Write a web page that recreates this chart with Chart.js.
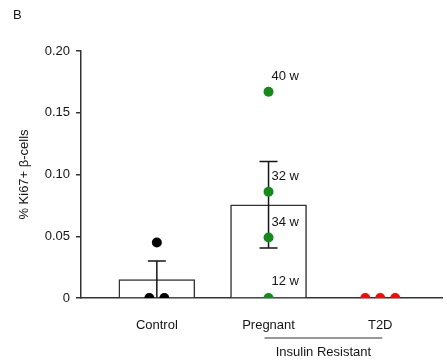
<!DOCTYPE html>
<html>
<head>
<meta charset="utf-8">
<script src="https://cdn.jsdelivr.net/npm/chart.js@4.4.0/dist/chart.umd.min.js"></script>
<style>
  html, body { margin: 0; padding: 0; background: #fff; }
</style>
</head>
<body>
<canvas id="chartKi67" width="447" height="364"></canvas>
<script>
const groups = ['Control', 'Pregnant', 'T2D'];
const means = [0.015, 0.0755, 0];
const sems = [0.015, 0.035, 0];
const controlPts = [0, 0, 0.045];
const pregnantPts = [0.167, 0.086, 0.049, 0];
const t2dPts = [0, 0, 0];
const pregnantWeeks = ['40 w', '32 w', '34 w', '12 w'];
const yTicks = [0, 0.05, 0.10, 0.15, 0.20];

// horizontal spread of the dots inside a group (in group units)
const controlJitter = [-0.067, 0.067, 0];
const t2dJitter = [-0.134, 0, 0.134];

const FONT = 'Liberation Sans, Arial, Helvetica, sans-serif';
const INK = '#151515';
const GREEN = '#15891a';
const RED = '#f50a0a';

const toPoints = (vals, grp, jitter) =>
    vals.map((v, i) => ({ x: grp + (jitter ? jitter[i] : 0), y: v }));

const extras = {
    id: 'extras',
    afterDatasetDraw(chart, args) {
        if (args.index !== 0) return;
        // error bars, drawn right after the bars so the dots sit on top
        const { ctx, scales: { x, y } } = chart;
        ctx.save();
        ctx.strokeStyle = INK;
        ctx.lineWidth = 1.5;
        means.forEach((m, i) => {
            if (!sems[i]) return;
            const px = x.getPixelForValue(i + 1);
            const top = y.getPixelForValue(m + sems[i]);
            const bot = y.getPixelForValue(Math.max(0, m - sems[i]));
            ctx.beginPath();
            ctx.moveTo(px, top); ctx.lineTo(px, bot);
            ctx.moveTo(px - 9, top); ctx.lineTo(px + 9, top);
            if (m - sems[i] > 0) { ctx.moveTo(px - 9, bot); ctx.lineTo(px + 9, bot); }
            ctx.stroke();
        });
        ctx.restore();
    },
    afterDatasetsDraw(chart) {
        const { ctx, scales: { x } } = chart;
        ctx.save();
        ctx.fillStyle = INK;
        ctx.font = '13px ' + FONT;
        ctx.textBaseline = 'middle';

        // week labels next to the pregnant dots
        const meta = chart.getDatasetMeta(2);
        meta.data.forEach((pt, i) => {
            ctx.textAlign = 'left';
            ctx.fillText(pregnantWeeks[i], pt.x + 3, pt.y - (pt.y > 290 ? 17 : 15));
        });

        // panel letter
        ctx.fillText('B', 13, 15);

        // bracket under Pregnant + T2D
        const x1 = x.getPixelForValue(2) - 4;
        const x2 = x.getPixelForValue(3) + 2;
        ctx.strokeStyle = '#333';
        ctx.lineWidth = 1.2;
        ctx.beginPath();
        ctx.moveTo(x1, 338); ctx.lineTo(x2, 338);
        ctx.stroke();
        ctx.textAlign = 'center';
        ctx.fillText('Insulin Resistant', (x1 + x2) / 2, 352);
        ctx.restore();
    }
};

new Chart(document.getElementById('chartKi67'), {
    type: 'bar',
    data: {
        datasets: [{
            type: 'bar',
            data: means.map((m, i) => ({ x: i + 1, y: m })),
            backgroundColor: '#fff',
            borderColor: '#333',
            borderWidth: 1.5,
            barThickness: 76,
            order: 10
        }, {
            type: 'scatter',
            data: toPoints(controlPts, 1, controlJitter),
            pointRadius: 5,
            pointHoverRadius: 5,
            pointBorderWidth: 0,
            backgroundColor: '#000',
            order: 0
        }, {
            type: 'scatter',
            data: toPoints(pregnantPts, 2),
            pointRadius: 5,
            pointHoverRadius: 5,
            pointBorderWidth: 0,
            backgroundColor: GREEN,
            order: 0
        }, {
            type: 'scatter',
            data: toPoints(t2dPts, 3, t2dJitter),
            pointRadius: 5,
            pointHoverRadius: 5,
            pointBorderWidth: 0,
            backgroundColor: RED,
            order: 0
        }]
    },
    options: {
        responsive: false,
        animation: false,
        layout: { padding: { top: 51, right: 0, left: 0, bottom: 0 } },
        plugins: { legend: { display: false }, tooltip: { enabled: false } },
        scales: {
            x: {
                type: 'linear',
                offset: false,
                min: 0.321,
                max: 3.553,
                afterBuildTicks: s => { s.ticks = groups.map((g, i) => ({ value: i + 1 })); },
                afterFit: s => { s.height = 66; s.paddingLeft = 0; s.paddingRight = 0; },
                grid: { display: false },
                border: { display: true, color: '#333', width: 1.5 },
                ticks: {
                    color: INK,
                    padding: 12,
                    maxRotation: 0,
                    minRotation: 0,
                    font: { family: FONT, size: 13 },
                    callback: v => groups[v - 1]
                }
            },
            y: {
                min: 0,
                max: 0.2,
                afterBuildTicks: s => { s.ticks = yTicks.map(v => ({ value: v })); },
                afterFit: s => { s.width = 81; },
                grid: { drawOnChartArea: false, tickLength: 5, color: '#333', lineWidth: 1.5 },
                border: { display: true, color: '#333', width: 1.5 },
                ticks: {
                    color: INK,
                    padding: 6,
                    font: { family: FONT, size: 13 },
                    callback: v => v === 0 ? '0' : v.toFixed(2)
                },
                title: {
                    display: true,
                    text: '% Ki67+ β-cells',
                    color: INK,
                    font: { family: FONT, size: 13 },
                    padding: { top: 17, bottom: 0 }
                }
            }
        }
    },
    plugins: [extras]
});
</script>
</body>
</html>
